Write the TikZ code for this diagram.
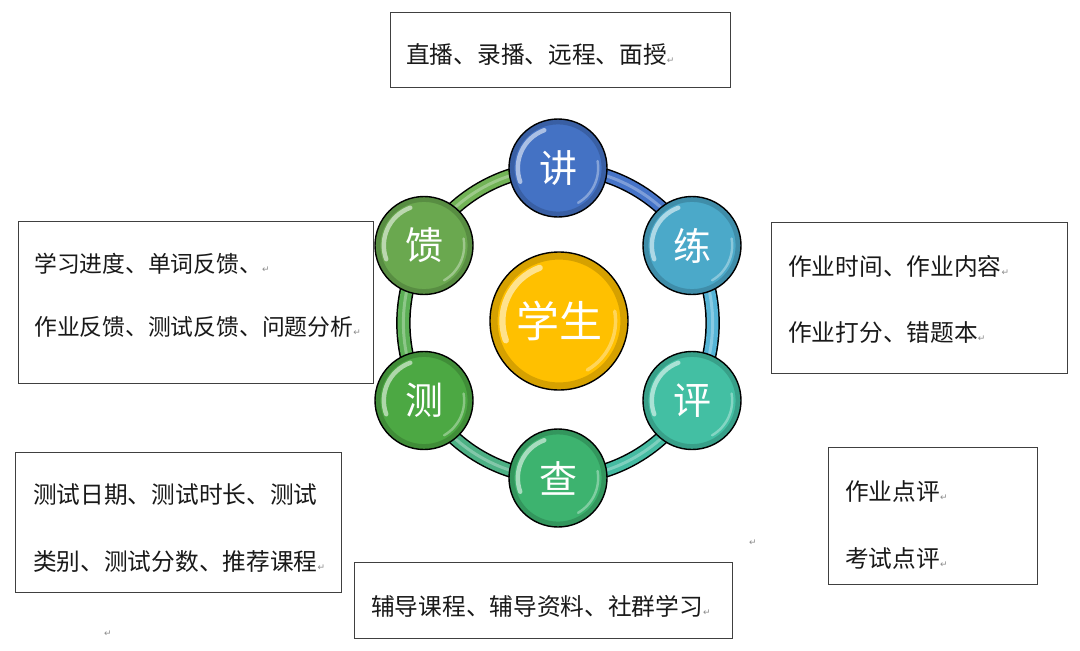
\documentclass[tikz,border=0pt]{standalone}
\usepackage{fontspec}
\newfontfamily\cjk{Noto Sans CJK SC}
\newfontfamily\dejavu{DejaVu Sans}
\definecolor{cJiang}{HTML}{4472C4}
\definecolor{cLian}{HTML}{4BA9C9}
\definecolor{cPing}{HTML}{43BFA3}
\definecolor{cCha}{HTML}{3DB36F}
\definecolor{cCe}{HTML}{4CA843}
\definecolor{cKui}{HTML}{6AA84F}
\definecolor{cXue}{HTML}{FFC000}
\definecolor{rA}{HTML}{4674C8}
\definecolor{rB}{HTML}{55B4D6}
\definecolor{rC}{HTML}{45BBA2}
\definecolor{rD}{HTML}{4CB084}
\definecolor{rE}{HTML}{5CAF56}
\definecolor{rF}{HTML}{72B356}
\newcommand\retmk{\textcolor{black!45}{\dejavu\fontsize{9}{9}\selectfont ↵}}
\pgfdeclarelayer{back}
\pgfdeclarelayer{bg}
\pgfsetlayers{back,bg,main}
\tikzset{
  ball/.style 2 args={circle, draw=black, line width=1.4pt, minimum size=2*#2pt,
    inner sep=0pt, fill=#1, text=white,
    path picture={
      \draw[#1!60!black, line width=0.12*#2pt, opacity=0.4]
        (path picture bounding box.center) circle[radius=0.95*#2pt];
      \draw[white, opacity=0.55, line width=0.09*#2pt, line cap=round]
        ([shift={(110:0.82*#2pt)}]path picture bounding box.center)
        arc[start angle=110, end angle=200, radius=0.82*#2pt];
      \draw[white, opacity=0.35, line width=0.05*#2pt, line cap=round]
        ([shift={(-60:0.82*#2pt)}]path picture bounding box.center)
        arc[start angle=-60, end angle=10, radius=0.82*#2pt];
    }},
  small/.style={ball={#1}{49}, font=\cjk\fontsize{38}{38}\selectfont},
  box/.style={draw=black!75, line width=0.9pt, inner sep=0pt, outer sep=0pt},
  txt/.style={anchor=west, inner sep=0pt, font=\cjk\fontsize{23.7}{23.7}\selectfont, text=black!90},
  txtn/.style={txt, font=\cjk\fontsize{22.8}{22.8}\selectfont},
  retm/.style={inner sep=0pt, text=black!45, font=\dejavu\fontsize{9}{9}\selectfont},
  ringout/.style={draw=black, line width=14.5pt},
  ringin/.style={line width=11.5pt},
  ringhi/.style={draw=white, opacity=0.3, line width=3pt},
}
\begin{document}
\begin{tikzpicture}[x=1pt,y=-1pt]
\begin{pgfonlayer}{back}
\fill[white] (0,0) rectangle (1080,651);
\end{pgfonlayer}
\useasboundingbox (0,0) rectangle (1080,651);

% boxes
\node[box, minimum width=340pt, minimum height=75pt] (btop) at (560,49.5) {};
\node[box, minimum width=355pt, minimum height=162pt] (bleft1) at (195.5,302) {};
\node[box, minimum width=296pt, minimum height=151pt] (bright1) at (919,297.5) {};
\node[box, minimum width=326pt, minimum height=140pt] (bleft2) at (178,522) {};
\node[box, minimum width=209pt, minimum height=137pt] (bright2) at (932.5,515.5) {};
\node[box, minimum width=378pt, minimum height=76pt] (bbot) at (543,600) {};

% texts
\node[txt] (ttop) at (406,54.5) {直播、录播、远程、面授\retmk};
\node[txtn] (tl1a) at (34,264) {学习进度、单词反馈、\retmk};
\node[txtn] (tl1b) at (34,327) {作业反馈、测试反馈、问题分析\retmk};
\node[txt] (tr1a) at (788,266) {作业时间、作业内容\retmk};
\node[txt] (tr1b) at (788,333) {作业打分、错题本\retmk};
\node[txt] (tl2a) at (33,495) {测试日期、测试时长、测试};
\node[txt] (tl2b) at (33,562) {类别、测试分数、推荐课程\retmk};
\node[txt] (tr2a) at (845,491) {作业点评\retmk};
\node[txt] (tr2b) at (845,558) {考试点评\retmk};
\node[txt] (tbot) at (371,606) {辅导课程、辅导资料、社群学习\retmk};
\node[retm] (s1) at (753,543) {↵};
\node[retm] (s2) at (108,634) {↵};

% circles
\node[ball={cXue}{69}, font=\cjk\fontsize{43}{43}\selectfont] (xue) at (559,321) {学生};
\node[small=cJiang] (jiang) at (558,168) {讲};
\node[small=cLian] (lian) at (692,245.5) {练};
\node[small=cPing] (ping) at (692,400.5) {评};
\node[small=cCha] (cha) at (558,478) {查};
\node[small=cCe] (ce) at (424,400.5) {测};
\node[small=cKui] (kui) at (424,245.5) {馈};

% ring
\begin{pgfonlayer}{bg}
\foreach \a/\b in {jiang/lian,lian/ping,ping/cha,cha/ce,ce/kui,kui/jiang}
  \draw[ringout] (\a.center) to[bend left=30, looseness=0.91] (\b.center);
\foreach \a/\b/\c in {jiang/lian/rA,lian/ping/rB,ping/cha/rC,cha/ce/rD,ce/kui/rE,kui/jiang/rF}
  \draw[ringin, draw=\c] (\a.center) to[bend left=30, looseness=0.91] (\b.center);
\foreach \a/\b in {jiang/lian,lian/ping,ping/cha,cha/ce,ce/kui,kui/jiang}
  \draw[ringhi] (\a.center) to[bend left=30, looseness=0.91] (\b.center);
\end{pgfonlayer}
\end{tikzpicture}
\end{document}
